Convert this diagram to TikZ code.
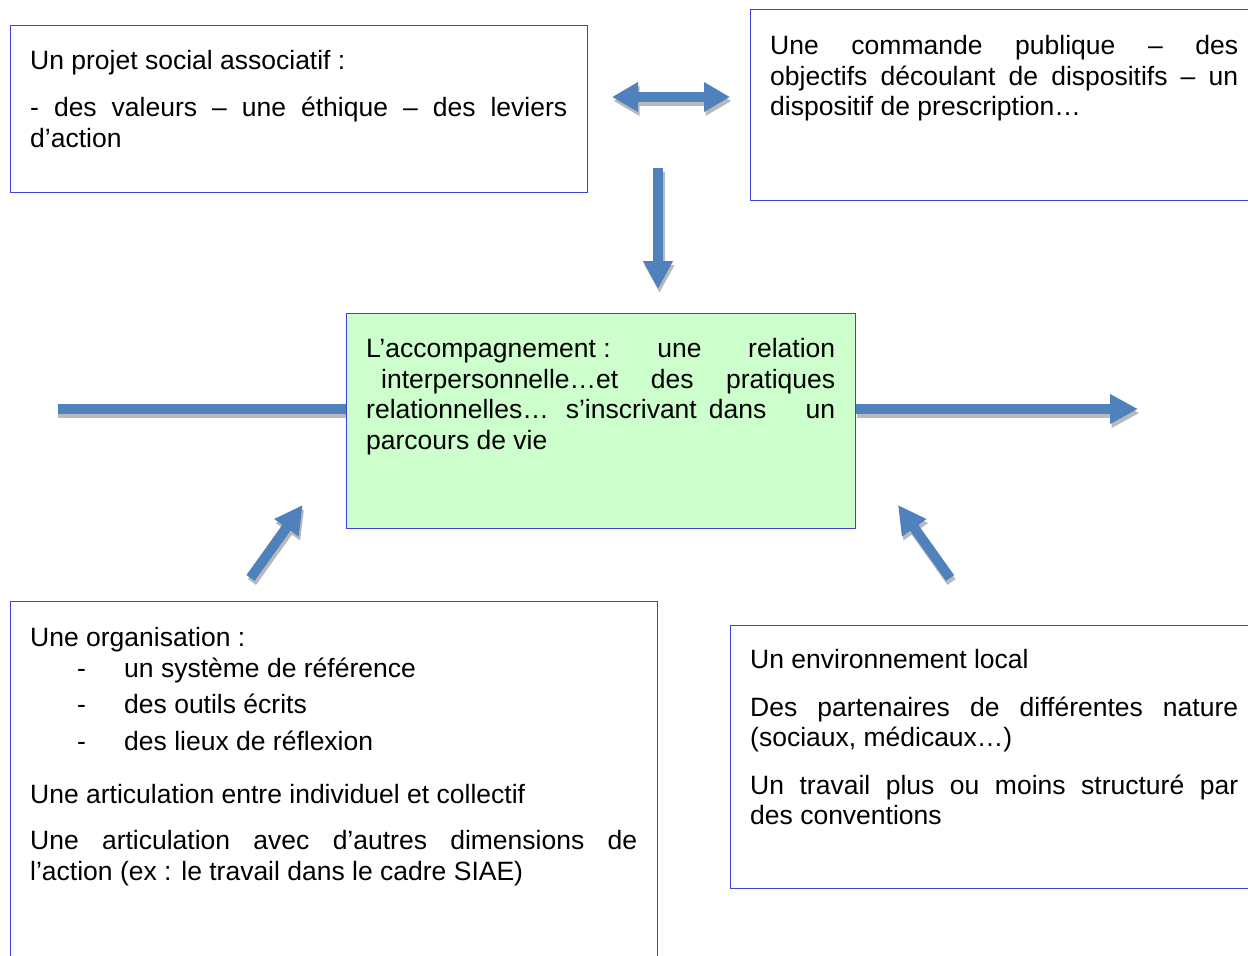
\documentclass[tikz,border=0pt]{standalone}
\usepackage{fontspec}
\setmainfont{Liberation Sans}
\usetikzlibrary{arrows.meta}
\definecolor{boxblue}{RGB}{64,64,220}
\definecolor{arrblue}{RGB}{79,129,189}
\definecolor{boxgreen}{RGB}{204,255,204}
\definecolor{shadegray}{RGB}{185,185,185}
\setlength\parindent{0pt}
\begin{document}
\begin{tikzpicture}[x=1pt,y=-1pt,
  box/.style={draw=boxblue,line width=1.2pt,rectangle,anchor=north west,inner sep=0pt},
  txt/.style={anchor=north west,inner sep=0pt,align=justify,font=\fontsize{26.5}{30.5}\selectfont},
  arr/.style={line width=10pt,draw=arrblue},
  shd/.style={line width=10pt,draw=shadegray},
  tipA/.style={-{Triangle[width=28pt,length=28pt]}},
  tipB/.style={{Triangle[width=28pt,length=26pt]}-{Triangle[width=28pt,length=26pt]}}
  ]
\useasboundingbox (0,0) rectangle (1248,956);
\clip (0,0) rectangle (1248,956);
\fill[white] (0,0) rectangle (1248,956);

% arrow end points
\coordinate (d1) at (612,97);
\coordinate (d2) at (730,97);
\coordinate (v1) at (658,168);
\coordinate (v2) at (658,289);
\coordinate (l1) at (58,409);
\coordinate (l2) at (346,409);
\coordinate (r1) at (855,409);
\coordinate (r2) at (1138,409);
\coordinate (ur1) at (250.5,578);
\coordinate (ur2) at (302.7,505);
\coordinate (ul1) at (950,578);
\coordinate (ul2) at (898,505);

% shadows
\draw[shd,tipB] ([shift={(1.5,4)}]d1) -- ([shift={(1.5,4)}]d2);
\draw[shd,tipA] ([shift={(1.5,4)}]v1) -- ([shift={(1.5,4)}]v2);
\draw[shd] ([shift={(0,4)}]l1) -- ([shift={(0,4)}]l2);
\draw[shd,tipA] ([shift={(1.5,4)}]r1) -- ([shift={(1.5,4)}]r2);
\draw[shd,tipA] ([shift={(1.5,4)}]ur1) -- ([shift={(1.5,4)}]ur2);
\draw[shd,tipA] ([shift={(1.5,4)}]ul1) -- ([shift={(1.5,4)}]ul2);
% arrows
\draw[arr,tipB] (d1) -- (d2);
\draw[arr,tipA] (v1) -- (v2);
\draw[arr] (l1) -- (l2);
\draw[arr,tipA] (r1) -- (r2);
\draw[arr,tipA] (ur1) -- (ur2);
\draw[arr,tipA] (ul1) -- (ul2);

% boxes
\node[box,minimum width=577pt,minimum height=167pt] (b1) at (10,25) {};
\node[box,minimum width=520pt,minimum height=191pt] (b2) at (750,9) {};
\node[box,fill=boxgreen,minimum width=509pt,minimum height=215pt] (b3) at (346,313) {};
\node[box,minimum width=647pt,minimum height=400pt] (b4) at (10,601) {};
\node[box,minimum width=540pt,minimum height=263pt] (b5) at (730,625) {};

% texts
\node[txt,text width=537pt] (t1) at (30,48.15) {\strut Un projet social associatif :\par\vspace{16.5pt}\strut - des valeurs – une éthique – des leviers\linebreak d’action};
\node[txt,text width=468pt] (t2) at (770,33.15) {\strut Une commande publique – des\linebreak objectifs découlant de dispositifs – un\linebreak dispositif de prescription…};
\node[txt,text width=469pt] (t3) at (366,336.15) {\strut \mbox{L’accompagnement :} une relation\linebreak\hspace*{15pt}interpersonnelle…et des pratiques\linebreak \mbox{relationnelles…\hspace{17pt}s’inscrivant\hspace{12pt}dans}\hfill un\linebreak parcours de vie};
\node[txt,text width=607pt] (t4) at (30,625.15) {\strut Une organisation :\par\vspace{0.5pt}
\strut\hspace*{47pt}\makebox[47pt][l]{-}un système de référence\par\vspace{5.5pt}
\strut\hspace*{47pt}\makebox[47pt][l]{-}des outils écrits\par\vspace{6pt}
\strut\hspace*{47pt}\makebox[47pt][l]{-}des lieux de réflexion\par\vspace{23pt}
\strut Une articulation entre individuel et collectif\par\vspace{15.5pt}
\strut Une articulation avec d’autres dimensions de\linebreak l’action (ex : le travail dans le cadre SIAE)};
\node[txt,text width=488pt] (t5) at (750,647.15) {\strut Un environnement local\par\vspace{17pt}\strut Des partenaires de différentes nature\linebreak (sociaux, médicaux…)\par\vspace{17pt}\strut Un travail plus ou moins structuré par\linebreak des conventions};
\end{tikzpicture}
\end{document}
